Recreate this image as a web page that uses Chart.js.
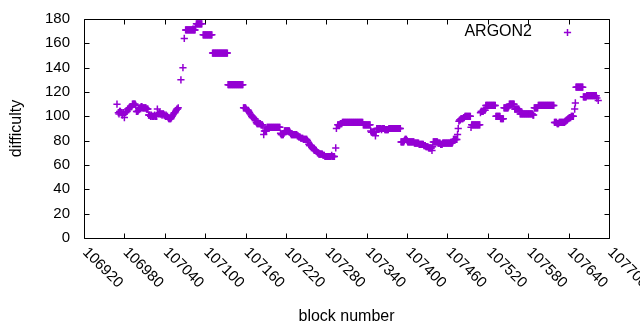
<!DOCTYPE html>
<html>
<head>
<meta charset="utf-8">
<script src="https://cdn.jsdelivr.net/npm/chart.js@4/dist/chart.umd.min.js"></script>
<style>
html,body{margin:0;padding:0;background:#fff;}
#wrap{width:640px;height:330px;}
</style>
</head>
<body>
<div id="wrap"><canvas id="c" width="640" height="330"></canvas></div>
<script>
// ---- data ----
const seriesName = 'ARGON2';
const xTitle = 'block number';
const yTitle = 'difficulty';
const firstBlock = 106969;           // block number of the first entry below
const difficulty = [                 // one entry per block, null = no ARGON2 block
  110, null, 103, 102, 104, 104, 103, 103, 101, 103,
  103, 99, null, 103, 104, 104, 106, 106, 107, 107,
  108, 108, 108, 110, 110, 110, 110, 110, 109, 104,
  104, 104, 105, 106, 107, 107, 108, 108, 107, 107,
  107, 107, 107, 107, 106, 106, 106, 101, 101, 101,
  100, 101, 100, 100, 100, 100, 101, 100, 100, 100,
  106, null, 102, 103, 102, 102, 102, 101, 102, 102,
  101, 101, 100, 101, 100, 100, 99, 98, 98, 98,
  98, 99, 100, 101, 102, 103, 103, 104, 105, 106,
  106, 107, null, null, null, 130, null, null, 140, null,
  164, null, 171, 171, 171, 171, 171, 171, 171, 171,
  171, 171, 171, 171, 171, 171, 171, 174, 176, 176,
  176, 176, 176, 176, 176, 176, 176, null, 167, 167,
  167, 167, 167, 167, 167, 167, 167, 167, 167, 167,
  167, 167, 152, 152, 152, 152, 152, 152, 152, 152,
  152, 152, 152, 152, 152, 152, 152, 152, 152, 152,
  152, 152, 152, 152, 152, 126, 126, 126, 126, 126,
  126, 126, 126, 126, 126, 126, 126, 126, 126, 126,
  126, 126, 126, 126, 126, 126, 126, 126, 107, 107,
  107, 107, 106, 105, 105, 105, 104, 103, 102, 101,
  100, 99, 99, 99, 98, 98, 97, 95, 94, 94,
  94, 94, 94, 94, 93, 93, 93, 92, 85, 88,
  88, 88, 88, 91, 91, 91, 91, 91, 91, 91,
  91, 91, 91, 91, 91, 91, 91, 91, 91, 91,
  91, 91, 91, 86, 85, 85, 85, 85, 86, 88,
  88, 88, 88, 88, 88, 88, 88, 87, 86, 85,
  85, 85, 85, 85, 85, 85, 85, 85, 84, 84,
  83, 83, 83, 82, 82, 82, 82, 81, 81, 81,
  81, 81, 81, 80, 79, 77, 76, 76, 76, 76,
  75, 74, 73, 72, 72, 72, 72, 71, 70, 70,
  69, 69, 69, 69, 69, 69, 68, 68, 68, 67,
  67, 67, 67, 67, 67, 67, 67, 67, 67, 68,
  67, 67, 67, 67, null, 74, 90, null, 93, 93,
  93, 93, 94, 94, 94, 95, 95, 95, 95, 95,
  95, 95, 95, 95, 95, 95, 95, 95, 95, 95,
  95, 95, 95, 95, 95, 95, 95, 95, 95, 95,
  95, 95, 95, 95, 95, 95, 93, 93, 93, 93,
  93, 93, 93, 93, 93, 93, 93, 88, 87, 87,
  87, 87, 87, 87, 84, 87, 90, 90, 90, 90,
  90, 90, 90, 89, 90, 90, 90, 90, 89, 89,
  89, 89, 89, 89, 90, 90, 90, 90, 90, 90,
  90, 90, 90, 90, 90, 90, 90, 90, 90, 90,
  90, 90, 79, 79, 79, 79, 79, 80, 81, 81,
  81, 80, 79, 79, 79, 79, 79, 79, 79, 79,
  79, 79, 78, 78, 78, 78, 78, 78, 78, 77,
  77, 77, 77, 77, 77, 77, 76, 76, 76, 75,
  75, 75, 75, 74, 74, 74, 74, 74, 72, 75,
  79, 79, 79, 79, 79, 79, 79, 78, 78, 78,
  78, 77, 77, 77, 78, 78, 78, 78, 78, 78,
  78, 78, 78, 78, 78, 78, 78, 78, 78, 79,
  81, 81, 81, 81, 81, 81, 85, 90, 96, 97,
  97, 98, 98, 98, 98, 99, 99, 100, 100, 100,
  100, 100, 100, 100, 100, 100, 91, 93, 93, 93,
  93, 93, 93, 93, 93, 93, 93, 93, 93, 93,
  103, 104, 104, 104, 104, 105, 105, 105, 109, 109,
  109, 109, 109, 109, 109, 109, 109, 109, 109, 109,
  109, 109, 109, 100, 100, 100, 100, 100, 100, 100,
  98, 98, 98, 98, 98, 107, 107, 107, 107, 107,
  107, 107, 108, 110, 110, 110, 110, 110, 110, 110,
  110, 106, 106, 106, 106, 106, 106, 106, 105, 102,
  102, 102, 102, 102, 102, 102, 102, 102, 102, 102,
  102, 102, 102, 102, 102, 102, 102, 102, 101, 101,
  107, 107, 107, 107, 107, 107, 109, 109, 109, 109,
  109, 109, 109, 109, 109, 109, 109, 109, 109, 109,
  109, 109, 109, 109, 109, 109, 109, 109, 109, 109,
  95, 95, 95, 95, 94, 94, 94, 95, 95, 95,
  95, 95, 95, 95, 95, 95, 96, 96, 97, 97,
  98, 98, 99, 99, 99, 100, 100, 100, 100, null,
  106, 111, 124, 124, 124, 124, 124, 124, 124, 124,
  124, 124, 124, 116, 116, 116, 116, 116, 117, 117,
  117, 117, 117, 117, 117, 117, 117, 117, 117, 117,
  117, 117, 117, 115, null, 113
];
const xTicks = [106920, 106980, 107040, 107100, 107160, 107220, 107280,
                107340, 107400, 107460, 107520, 107580, 107640, 107700];
const yTicks = [0, 20, 40, 60, 80, 100, 120, 140, 160, 180];

// ---- build chart ----
const COLOR = '#9400D3';
const FONT = "'Liberation Sans', Arial, sans-serif";
Chart.defaults.font.family = FONT;
Chart.defaults.color = '#000';

const points = [];
difficulty.forEach((v, i) => { if (v !== null) points.push({x: firstBlock + i, y: v}); });

const framePlugin = {
  id: 'gnuplotFrame',
  beforeDatasetsDraw(chart) {
    const {ctx, chartArea: a, scales: {x, y}} = chart;
    ctx.save();
    ctx.strokeStyle = '#000';
    ctx.lineWidth = 1;
    ctx.beginPath();
    const L = Math.round(a.left) + 0.5, R = Math.round(a.right) + 0.5;
    const T = Math.round(a.top) + 0.5, B = Math.round(a.bottom) + 0.5;
    ctx.rect(L, T, R - L, B - T);
    const tl = 5;
    x.ticks.forEach(t => {
      const px = Math.round(x.getPixelForValue(t.value)) + 0.5;
      ctx.moveTo(px, B); ctx.lineTo(px, B - tl);
      ctx.moveTo(px, T); ctx.lineTo(px, T + tl);
    });
    y.ticks.forEach(t => {
      const py = Math.round(y.getPixelForValue(t.value)) + 0.5;
      ctx.moveTo(L, py); ctx.lineTo(L + tl, py);
      ctx.moveTo(R, py); ctx.lineTo(R - tl, py);
    });
    ctx.stroke();
    ctx.restore();
  },
  afterDraw(chart) {
    const {ctx, chartArea: a, scales: {x}} = chart;
    ctx.save();
    ctx.fillStyle = '#000';
    ctx.font = '15px ' + FONT;
    ctx.textAlign = 'left';
    ctx.textBaseline = 'middle';
    x.ticks.forEach(t => {
      const px = x.getPixelForValue(t.value);
      ctx.save();
      ctx.translate(px + 1, a.bottom + 12);
      ctx.rotate(Math.PI / 4);
      ctx.fillText(String(t.value), 0, 0);
      ctx.restore();
    });
    // key
    ctx.font = '16px ' + FONT;
    ctx.textAlign = 'right';
    ctx.fillText(seriesName, 532, 32);
    ctx.strokeStyle = COLOR;
    ctx.lineWidth = 1.5;
    ctx.beginPath();
    const kx = 567.5, ky = 32.5, r = 3.6;
    ctx.moveTo(kx - r, ky); ctx.lineTo(kx + r, ky);
    ctx.moveTo(kx, ky - r); ctx.lineTo(kx, ky + r);
    ctx.stroke();
    ctx.restore();
  }
};

new Chart(document.getElementById('c'), {
  type: 'scatter',
  data: {
    datasets: [{
      label: seriesName,
      data: points,
      pointStyle: 'cross',
      pointRadius: 3.6,
      pointHoverRadius: 3.6,
      borderColor: COLOR,
      backgroundColor: COLOR,
      borderWidth: 1.5,
      showLine: false
    }]
  },
  options: {
    responsive: false,
    animation: false,
    devicePixelRatio: 1,
    layout: {padding: {top: 19, right: 31, left: 0, bottom: 0}},
    plugins: {legend: {display: false}, tooltip: {enabled: false}},
    scales: {
      x: {
        type: 'linear',
        min: xTicks[0],
        max: xTicks[xTicks.length - 1],
        afterBuildTicks: s => { s.ticks = xTicks.map(v => ({value: v})); },
        afterFit: s => { s.height = 92; s.paddingLeft = 0; s.paddingRight = 0; },
        ticks: {display: false},
        grid: {display: false, drawTicks: false},
        border: {display: false},
        title: {display: true, text: xTitle, color: '#000',
                font: {size: 16, family: FONT}, padding: {top: 0, bottom: 3.5}}
      },
      y: {
        type: 'linear',
        min: yTicks[0],
        max: yTicks[yTicks.length - 1],
        afterBuildTicks: s => { s.ticks = yTicks.map(v => ({value: v})); },
        afterFit: s => { s.width = 84; s.paddingTop = 0; s.paddingBottom = 0; },
        ticks: {padding: 14, color: '#000', font: {size: 15, family: FONT}},
        grid: {display: false, drawTicks: false},
        border: {display: false},
        title: {display: true, text: yTitle, color: '#000',
                font: {size: 16, family: FONT}, padding: {top: 6.5, bottom: 0}}
      }
    }
  },
  plugins: [framePlugin]
});
</script>
</body>
</html>
